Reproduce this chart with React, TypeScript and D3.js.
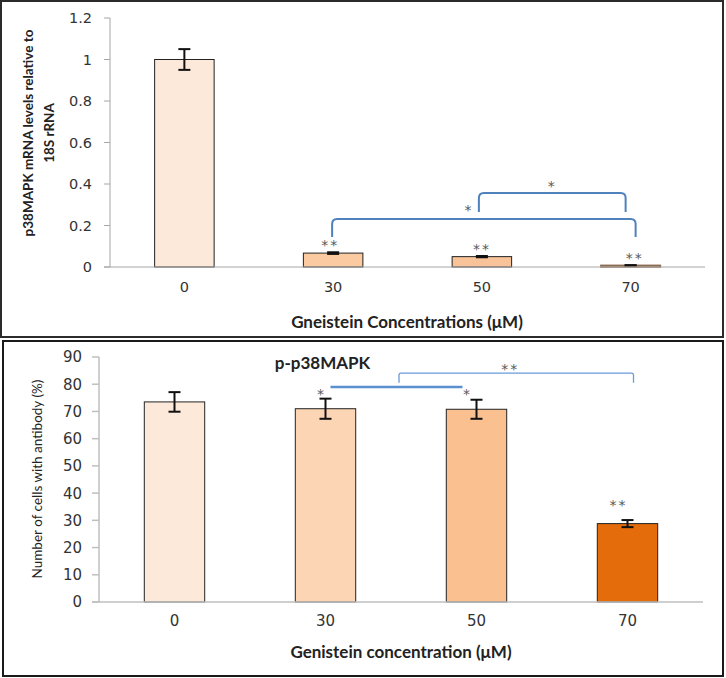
import React from "react";
import * as d3 from "d3";

// ---------- data ----------
const categories = ["0", "30", "50", "70"];

const mrnaValues = [1.0, 0.067, 0.05, 0.008];
const mrnaErrors = [0.05, 0.004, 0.003, 0.001];
const mrnaTicks = [0, 0.2, 0.4, 0.6, 0.8, 1.0, 1.2];
const mrnaTickLabels = ["0", "0.2", "0.4", "0.6", "0.8", "1", "1.2"];
const mrnaStars = ["", "**", "**", "**"];
const mrnaColors = ["#fde9d9", "#fbcaa1", "#f9c39a", "#f9c39a"];

const cellValues = [73.5, 71.0, 70.8, 28.8];
const cellErrors = [3.6, 3.7, 3.5, 1.3];
const cellTicks = [0, 10, 20, 30, 40, 50, 60, 70, 80, 90];
const cellTickLabels = ["0", "10", "20", "30", "40", "50", "60", "70", "80", "90"];
const cellColors = ["#fde9d9", "#fcd5b5", "#fac090", "#e46c0a"];

const TITLE_FONT = "Lato, 'Open Sans', sans-serif";
const TICK_FONT = "'DejaVu Sans', Verdana, sans-serif";
const STAR = "#595959";
const BLUE = "#4f81bd";

function bracketPath(x1: number, x2: number, yTop: number, yLeg: number, r: number) {
  return `M${x1},${yLeg} L${x1},${yTop + r} Q${x1},${yTop} ${x1 + r},${yTop} L${x2 - r},${yTop} Q${x2},${yTop} ${x2},${yTop + r} L${x2},${yLeg}`;
}

function ErrorBar({ x, y1, y2, cap }: { x: number; y1: number; y2: number; cap: number }) {
  return (
    <g stroke="#111" strokeWidth={2}>
      <line x1={x} x2={x} y1={y1} y2={y2} />
      <line x1={x - cap / 2} x2={x + cap / 2} y1={y1} y2={y1} />
      <line x1={x - cap / 2} x2={x + cap / 2} y1={y2} y2={y2} />
    </g>
  );
}

function Star({ x, y, text }: { x: number; y: number; text: string }) {
  // y = visual centre of the asterisk glyph
  return (
    <text x={x} y={y + 8} textAnchor="middle" fontFamily={TICK_FONT} fontSize={14} letterSpacing={2} fill={STAR}>
      {text}
    </text>
  );
}

function TopPanel() {
  const x = d3.scaleBand<string>().domain(categories).range([110, 705]).padding(0);
  const y = d3.scaleLinear().domain([0, 1.2]).range([267, 18]);
  const bw = x.bandwidth() * 0.4;
  const cx = (c: string) => (x(c) as number) + x.bandwidth() / 2;

  const bigX1 = cx(categories[1]) - 1;
  const bigX2 = cx(categories[3]) + 5;
  const smX1 = cx(categories[2]) - 3;
  const smX2 = cx(categories[3]) - 5;

  return (
    <g>
      <rect x={1} y={1} width={722} height={336} fill="#fff" stroke="#2b2b2b" strokeWidth={2} />
      <line x1={110} x2={110} y1={y(1.2)} y2={y(0)} stroke="#a6a6a6" strokeWidth={1} />
      {mrnaTicks.map((t, i) => (
        <g key={i}>
          <line x1={104} x2={110} y1={y(t)} y2={y(t)} stroke="#a6a6a6" />
          <text x={92} y={y(t)} dy="0.36em" textAnchor="end" fontFamily={TICK_FONT} fontSize={14.5} fill="#333">
            {mrnaTickLabels[i]}
          </text>
        </g>
      ))}
      {categories.map((c, i) => (
        <g key={c}>
          <rect
            x={cx(c) - bw / 2}
            y={y(mrnaValues[i])}
            width={bw}
            height={y(0) - y(mrnaValues[i])}
            fill={mrnaColors[i]}
            stroke={i === 3 ? "#8a6a50" : "#222"}
            strokeWidth={i === 3 ? 1.5 : 1}
          />
          <ErrorBar x={cx(c)} y1={y(mrnaValues[i] + mrnaErrors[i])} y2={y(mrnaValues[i] - mrnaErrors[i])} cap={12} />
          <text x={cx(c)} y={y(0)} dy="1.75em" textAnchor="middle" fontFamily={TICK_FONT} fontSize={14.5} fill="#333">
            {c}
          </text>
          {mrnaStars[i] && (
            <Star
              x={cx(c) + (i === 3 ? 4 : i === 1 ? -3 : 0)}
              y={y(mrnaValues[i] + mrnaErrors[i]) - 10}
              text={mrnaStars[i]}
            />
          )}
        </g>
      ))}
      <line x1={104} x2={705} y1={y(0)} y2={y(0)} stroke="#a6a6a6" strokeWidth={1} />
      <path d={bracketPath(bigX1, bigX2, y(0.231), y(0.145), 5)} fill="none" stroke={BLUE} strokeWidth={2} />
      <path d={bracketPath(smX1, smX2, y(0.357), y(0.265), 5)} fill="none" stroke={BLUE} strokeWidth={2} />
      <Star x={cx(categories[2]) - 13} y={y(0.29)} text="*" />
      <Star x={(smX1 + smX2) / 2} y={y(0.405)} text="*" />
      <text
        transform={`translate(33,133) rotate(-90)`}
        textAnchor="middle"
        fontFamily={TITLE_FONT}
        fontWeight={700}
        fontSize={13.5}
        fill="#222"
      >
        <tspan x={0} dy={0}>p38MAPK mRNA levels relative to</tspan>
        <tspan x={0} dy={21}>18S rRNA</tspan>
      </text>
      <text x={407} y={328} textAnchor="middle" fontFamily={TITLE_FONT} fontWeight={700} fontSize={17} fill="#222">
        Gneistein Concentrations (μM)
      </text>
    </g>
  );
}

function BottomPanel() {
  const x = d3.scaleBand<string>().domain(categories).range([99, 703]).padding(0);
  const y = d3.scaleLinear().domain([0, 90]).range([602, 357]);
  const bw = x.bandwidth() * 0.4;
  const cx = (c: string) => (x(c) as number) + x.bandwidth() / 2;

  const lineX1 = cx(categories[1]) + 5;
  const lineX2 = cx(categories[2]) - 14;
  const brX1 = (x(categories[2]) as number) - 2;
  const brX2 = cx(categories[3]) + 6;

  return (
    <g>
      <rect x={3} y={341} width={720} height={335} fill="#fff" stroke="#1a1a1a" strokeWidth={2} />
      <line x1={99} x2={99} y1={y(90)} y2={y(0)} stroke="#bfbfbf" strokeWidth={1.5} />
      {cellTicks.map((t, i) => (
        <g key={i}>
          <line x1={92} x2={99} y1={y(t)} y2={y(t)} stroke="#bfbfbf" strokeWidth={1.5} />
          <text x={82} y={y(t)} dy="0.36em" textAnchor="end" fontFamily={TICK_FONT} fontSize={15} fill="#333">
            {cellTickLabels[i]}
          </text>
        </g>
      ))}
      {categories.map((c, i) => (
        <g key={c}>
          <rect
            x={cx(c) - bw / 2}
            y={y(cellValues[i])}
            width={bw}
            height={y(0) - y(cellValues[i])}
            fill={cellColors[i]}
            stroke="#222"
            strokeWidth={1}
          />
          <ErrorBar x={cx(c)} y1={y(cellValues[i] + cellErrors[i])} y2={y(cellValues[i] - cellErrors[i])} cap={12} />
          <text x={cx(c)} y={y(0)} dy="1.6em" textAnchor="middle" fontFamily={TICK_FONT} fontSize={15} fill="#333">
            {c}
          </text>
        </g>
      ))}
      <line x1={92} x2={703} y1={y(0)} y2={y(0)} stroke="#bfbfbf" strokeWidth={1.5} />
      <line x1={lineX1} x2={lineX2} y1={y(79)} y2={y(79)} stroke="#5b8fd0" strokeWidth={2.5} />
      <Star x={lineX1 - 9} y={y(77.5)} text="*" />
      <Star x={lineX2 + 5} y={y(77.5)} text="*" />
      <path d={bracketPath(brX1, brX2, y(84.1), y(80.5), 2)} fill="none" stroke="#6a9bd8" strokeWidth={1.3} />
      <Star x={(brX1 + brX2) / 2 - 6} y={y(86.7)} text="**" />
      <Star x={cx(categories[3]) - 9} y={y(36.7)} text="**" />
      <text x={cx(categories[1]) - 3} y={y(87.8)} dy="0.35em" textAnchor="middle" fontFamily={TITLE_FONT} fontWeight={700} fontSize={17} fill="#222">
        p-p38MAPK
      </text>
      <text
        transform={`translate(37,479) rotate(-90)`}
        textAnchor="middle"
        dy="0.35em"
        fontFamily={TITLE_FONT}
        fontSize={13.5}
        fill="#222"
      >
        Number of cells with antibody (%)
      </text>
      <text x={401} y={658} textAnchor="middle" fontFamily={TITLE_FONT} fontWeight={700} fontSize={17} fill="#222">
        Genistein concentration (μM)
      </text>
    </g>
  );
}

export default function App() {
  return (
    <svg
      width={726}
      height={678}
      viewBox="0 0 726 678"
      style={{ position: "absolute", left: 0, top: 0, background: "#fff" }}
    >
      <rect x={0} y={0} width={726} height={678} fill="#fff" />
      <TopPanel />
      <BottomPanel />
    </svg>
  );
}
